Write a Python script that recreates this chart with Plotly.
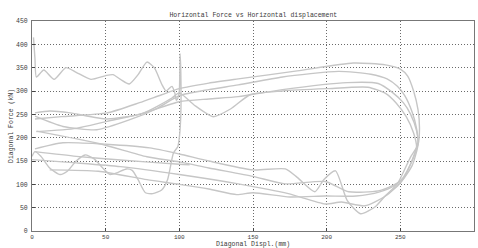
import plotly.graph_objects as go

title_text = "Horizontal Force vs Horizontal displacement"
x_title = "Diagonal Displ.(mm)"
y_title = "Diagonal Force (kN)"
x_ticks = [0, 50, 100, 150, 200, 250, 300]
y_ticks = [0, 50, 100, 150, 200, 250, 300, 350, 400, 450]

# wavy curve: top-left waves, spike at 100, bottom-left waves
wave_x = [1, 2, 3, 8, 15, 23, 30, 40, 50, 55, 60, 66, 72, 78, 83, 88, 91, 95, 97, 98, 99, 100, 100.5, 101, 101, 100, 99, 96, 92, 88, 82, 77, 72, 68, 64, 58, 53, 48, 42, 36, 30, 24, 19, 12, 6, 2, 0]
wave_y = [415, 370, 330, 345, 325, 350, 340, 325, 333, 335, 325, 315, 335, 362, 350, 315, 300, 310, 295, 280, 285, 300, 380, 340, 250, 200, 181, 167, 110, 88, 80, 82, 110, 130, 133, 125, 121, 135, 155, 163, 150, 128, 121, 135, 160, 170, 160]

# outer loop A
la_x = [2, 20, 51, 73, 88, 100, 120, 140, 180, 218, 240, 250, 255, 259, 262, 263, 262, 257, 248, 240, 233, 223, 214, 206, 198, 192, 180, 172, 150, 120, 100, 80, 50, 21, 2]
la_y = [240, 245, 253, 275, 292, 305, 317, 326, 343, 360, 356, 347, 332, 300, 260, 220, 185, 159, 101, 76, 52, 37, 65, 129, 110, 84, 115, 133, 131, 150, 165, 178, 186, 189, 176]

# loop B
lb_x = [2, 21, 44, 66, 85, 100, 120, 140, 170, 208, 230, 241, 248, 253, 258, 261, 262, 259, 252, 245, 235, 215, 199, 172, 150, 120, 100, 78, 46, 3]
lb_y = [246, 224, 217, 238, 263, 290, 303, 313, 330, 342, 336, 326, 310, 290, 255, 220, 190, 160, 112, 98, 86, 84, 106, 101, 117, 135, 148, 159, 187, 214]

# loop C
lc_x = [3, 30, 51, 73, 100, 120, 140, 170, 214, 235, 245, 252, 257, 261, 262, 258, 250, 240, 226, 210, 199, 174, 140, 100, 60, 30, 0]
lc_y = [213, 220, 235, 250, 277, 283, 288, 303, 318, 316, 296, 275, 250, 215, 185, 140, 103, 75, 54, 62, 58, 80, 101, 121, 138, 146, 153]

# loop D (with dip near 120)
ld_x = [2, 12, 26, 51, 75, 95, 100, 110, 123, 135, 148, 170, 200, 228, 240, 247, 254, 259, 261, 258, 252, 246, 236, 220, 199, 175, 150, 139, 120, 100, 78, 45, 12]
ld_y = [253, 257, 253, 240, 252, 285, 296, 270, 245, 262, 292, 300, 305, 308, 295, 275, 245, 210, 180, 150, 115, 97, 84, 75, 75, 73, 82, 78, 90, 100, 110, 128, 131]

# extra low-left branch
le_x = [2, 30, 60, 100, 107]
le_y = [170, 160, 152, 143, 142]

series = [(wave_x, wave_y), (la_x, la_y), (lb_x, lb_y), (lc_x, lc_y), (ld_x, ld_y), (le_x, le_y)]

fig = go.Figure()
for sx, sy in series:
    fig.add_trace(go.Scatter(x=sx, y=sy, mode="lines",
                             line=dict(color="#c6c6c6", width=1.4, shape="spline", smoothing=0.6),
                             showlegend=False, hoverinfo="skip"))

mono = "Liberation Mono"
txt = "#3a3a3a"
axis_common = dict(showgrid=True, gridcolor="#5a5a5a", griddash="1px,2px", gridwidth=0.9,
                   showline=True, linecolor="#777777", linewidth=1, mirror=True,
                   ticks="inside", ticklen=3, tickcolor="#444444",
                   zeroline=False, automargin=False)
fig.update_xaxes(range=[0, 300], tickvals=x_ticks, ticktext=[str(v) for v in x_ticks],
                 ticklabelstandoff=0, tickfont=dict(family=mono, size=6, color=txt), **axis_common)
fig.update_yaxes(range=[0, 450], tickvals=y_ticks, ticktext=[str(v) for v in y_ticks],
                 ticklabelstandoff=2, tickfont=dict(family=mono, size=6.5, color=txt), **axis_common)
fig.update_layout(
    width=478, height=248,
    margin=dict(l=32, r=4, t=21, b=17),
    paper_bgcolor="white", plot_bgcolor="white",
    title=dict(text=title_text, x=0.53, xanchor="center", y=0.94, yanchor="middle",
               font=dict(family=mono, size=6.5, color=txt)),
    annotations=[
        dict(text=x_title, xref="paper", yref="paper", x=0.5, y=0, yshift=-9,
             xanchor="center", yanchor="top", showarrow=False, borderpad=0,
             font=dict(family=mono, size=6.5, color=txt)),
        dict(text=y_title, xref="paper", yref="paper", x=0, xshift=-21, y=0.5,
             xanchor="center", yanchor="middle", textangle=-90, showarrow=False,
             font=dict(family=mono, size=6.5, color=txt)),
    ],
)
fig.write_html("out.html", config={"displayModeBar": False, "staticPlot": True},
               post_script="document.body.style.margin='0';document.body.style.overflow='hidden';")
